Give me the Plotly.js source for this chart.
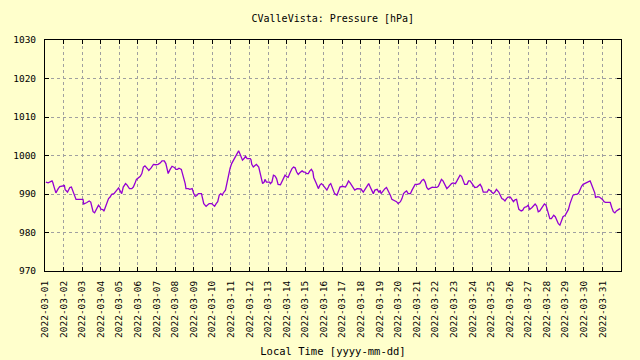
<!DOCTYPE html>
<html>
<head>
<meta charset="utf-8">
<script src="https://cdn.plot.ly/plotly-3.0.1.min.js"></script>
<style>
html,body{margin:0;padding:0;background:#ffffcc;}
#chart{width:640px;height:360px;}
</style>
</head>
<body>
<div id="chart"></div>
<script>
// Hours since 2022-03-01 00:00 (local time)
const hoursSinceStart = [
1,4,9,10,12,14,17,19,25,26,29,32,34,37,40,49,50,54,57,59,61,62,64,67,69,71,72,75,76,78,80,82,84,86,89,92,95,97,99,101,104,106,109,112,114,116,118,123,
125,127,129,133,134,137,140,143,146,149,151,154,156,158,159,161,164,167,169,171,173,176,177,179,181,182,185,187,190,192,194,196,198,202,203,205,208,210,212,215,219,221,223,225,227,229,230,233,235,237,239,241,242,243,245,
248,250,251,253,255,257,259,261,265,266,267,269,271,273,276,278,280,281,283,284,286,290,291,293,295,297,299,301,304,306,308,310,312,314,316,319,321,323,325,327,329,332,334,336,338,340,342,344,346,347,350,352,353,355,357,359,362,
364,366,367,369,371,374,377,379,381,384,388,390,392,394,397,400,403,405,408,411,413,416,418,420,422,424,426,429,431,433,434,437,439,441,443,446,448,450,452,454,456,459,461,463,465,467,469,472,474,476,478,481,484,487,489,
491,493,495,497,500,502,506,508,510,512,514,517,519,521,523,525,527,530,532,534,536,538,540,542,545,547,549,551,553,555,558,560,562,564,566,571,573,575,577,579,581,583,586,588,590,592,594,596,598,601,603,605,607,609,
611,612,615,617,619,622,624,626,629,631,633,635,637,639,642,645,647,648,650,652,654,657,659,661,663,665,667,669,672,674,676,678,680,682,685,687,689,691,693,695,697,700,702,704,705,707,710,711,714,716,718,720,722,724,728,730,732,734,736,738,741,743
];
// Pressure [hPa]
const pressure = [
993.1,992.9,993.4,993.0,991.6,990.3,991.4,991.9,992.2,991.1,990.5,991.7,991.8,990.1,988.6,988.6,987.4,987.8,988.2,987.9,986.6,985.4,985.1,986.6,987.1,986.6,986.1,985.9,985.5,986.6,987.7,988.8,989.2,989.9,990.1,990.8,991.6,990.8,990.1,991.8,992.7,992.3,991.4,991.4,991.8,992.7,993.8,994.6,
995.3,997.0,997.3,996.4,996.1,996.8,997.7,997.6,997.7,998.1,998.6,998.6,997.9,996.2,995.3,996.2,997.2,996.9,996.4,996.4,996.7,996.4,995.7,994.4,992.7,991.4,991.4,991.2,991.4,990.1,989.4,989.6,990.1,990.1,989.2,987.5,986.8,987.1,987.5,987.5,986.8,987.5,988.0,989.7,990.1,989.7,990.2,991.0,993.1,994.4,996.7,997.9,998.3,998.6,999.1,
1000.5,1001.2,1000.8,999.6,998.8,999.2,999.8,999.2,999.2,998.9,997.7,997.0,997.4,997.7,997.0,995.3,993.6,992.7,993.1,993.8,993.1,993.1,992.7,993.1,994.9,994.7,994.0,992.5,992.4,993.3,994.3,994.9,994.5,994.3,995.3,996.6,997.0,996.8,995.7,995.1,995.5,996.0,995.7,995.7,995.3,995.3,996.0,996.4,995.7,994.3,992.9,991.8,991.4,992.3,992.7,992.3,991.4,
991.0,991.8,992.3,992.7,991.8,990.1,989.7,990.6,991.8,992.0,991.8,992.5,993.4,992.9,991.8,991.0,991.4,991.4,991.3,990.5,991.2,992.3,992.7,991.8,991.0,990.1,991.0,991.2,990.5,990.8,990.1,991.0,991.4,991.7,991.0,989.7,988.6,988.4,988.2,988.0,987.5,988.0,988.8,990.1,990.5,990.8,990.1,990.1,991.0,991.8,992.5,992.5,992.7,993.6,993.8,
993.1,991.7,991.2,991.4,991.8,991.7,991.7,992.0,993.1,993.8,993.4,992.3,991.4,991.8,992.3,992.7,992.9,992.7,993.4,994.3,994.9,994.6,993.6,992.5,992.5,993.4,993.4,992.9,992.5,991.7,991.8,992.3,992.5,991.8,990.5,990.5,991.2,990.9,990.5,990.1,990.5,991.2,990.5,989.7,988.8,988.6,988.2,988.8,989.2,989.2,988.4,988.0,988.5,988.6,
986.8,986.0,985.6,985.8,986.5,986.7,987.1,986.0,986.5,987.1,987.4,986.9,985.4,985.6,986.5,987.4,987.1,986.5,984.9,983.6,983.6,984.5,984.1,983.0,982.3,981.9,983.2,984.1,984.5,985.1,986.0,987.5,988.8,989.7,989.9,989.9,990.2,991.2,992.0,992.5,992.7,992.9,993.1,993.4,992.9,991.8,990.3,989.1,989.3,989.2,988.9,988.6,988.0,987.8,987.8,987.8,986.5,985.4,985.1,985.6,986.0,986.2
];
const tickDates = [
"2022-03-01","2022-03-02","2022-03-03","2022-03-04","2022-03-05","2022-03-06","2022-03-07","2022-03-08",
"2022-03-09","2022-03-10","2022-03-11","2022-03-12","2022-03-13","2022-03-14","2022-03-15","2022-03-16",
"2022-03-17","2022-03-18","2022-03-19","2022-03-20","2022-03-21","2022-03-22","2022-03-23","2022-03-24",
"2022-03-25","2022-03-26","2022-03-27","2022-03-28","2022-03-29","2022-03-30","2022-03-31"
];
const yTicks = [970, 980, 990, 1000, 1010, 1020, 1030];

function pad(n){return (n<10?'0':'')+n;}
const start = Date.UTC(2022, 2, 1, 0, 0, 0);
const times = hoursSinceStart.map(h => {
  const d = new Date(start + h * 3600000);
  return d.getUTCFullYear() + '-' + pad(d.getUTCMonth()+1) + '-' + pad(d.getUTCDate()) + ' ' + pad(d.getUTCHours()) + ':00';
});

const mono = "DejaVu Sans Mono, monospace";
const trace = {
  x: times, y: pressure, type: 'scatter', mode: 'lines',
  line: {color: '#9400d3', width: 1.3, shape: 'linear'},
  hoverinfo: 'skip'
};
const layout = {
  width: 640, height: 360,
  paper_bgcolor: '#ffffcc', plot_bgcolor: '#ffffcc',
  margin: {l: 45, r: 19, t: 40, b: 89, pad: 0},
  showlegend: false,
  title: {text: 'CValleVista: Pressure [hPa]', font: {family: mono, size: 10, color: '#000'},
          x: 0.52, xanchor: 'center', y: 0.95, yanchor: 'middle'},
  xaxis: {
    type: 'date',
    range: ['2022-02-28 23:55', '2022-03-31 23:55'],
    tickmode: 'array', tickvals: tickDates, ticktext: tickDates,
    tickangle: -90,
    tickfont: {family: mono, size: 9.5, color: '#000'},
    ticks: 'inside', ticklen: 4, tickcolor: '#000',
    showline: true, linecolor: '#000', linewidth: 1, mirror: 'ticks',
    showgrid: true, gridcolor: '#a0a0a0', gridwidth: 1, griddash: '3px,3px',
    zeroline: false,
    ticklabelstandoff: 5,
    title: {text: 'Local Time [yyyy-mm-dd]', font: {family: mono, size: 10.5, color: '#000'}, standoff: 10}
  },
  yaxis: {
    range: [970, 1030],
    tickmode: 'array', tickvals: yTicks, ticktext: yTicks.map(String),
    tickfont: {family: mono, size: 9.5, color: '#000'},
    ticks: 'inside', ticklen: 4, tickcolor: '#000',
    showline: true, linecolor: '#000', linewidth: 1, mirror: 'ticks',
    showgrid: true, gridcolor: '#a0a0a0', gridwidth: 1, griddash: '3px,3px',
    zeroline: false,
    ticklabelstandoff: 6
  }
};
Plotly.newPlot('chart', [trace], layout, {staticPlot: true, displayModeBar: false});
</script>
</body>
</html>
